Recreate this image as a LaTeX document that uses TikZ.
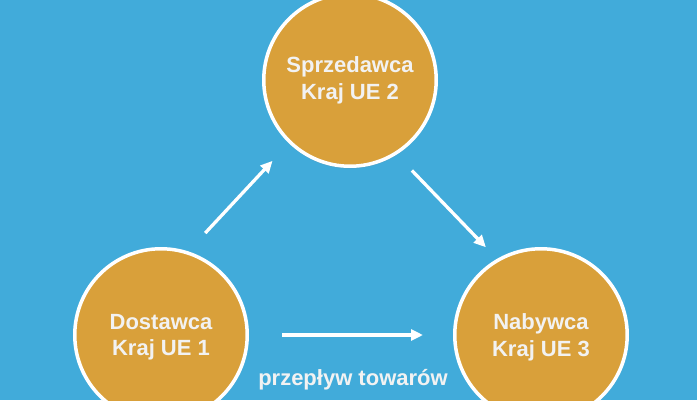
\documentclass[tikz,border=0pt]{standalone}
\usepackage{fontspec}
\setmainfont{Liberation Sans}
\usetikzlibrary{arrows.meta,shadows}
\definecolor{skyblue}{HTML}{41ABDA}
\definecolor{amber}{HTML}{D9A03A}
\definecolor{offwhite}{HTML}{F2F2F2}
\tikzset{
  country/.style={circle, fill=amber, draw=white, line width=3.5pt,
    minimum size=172.5pt, inner sep=0pt, align=center, text=offwhite,
    font=\fontsize{22pt}{26.7pt}\selectfont\bfseries,
    drop shadow={opacity=0.18, shadow xshift=0pt, shadow yshift=-2.5pt}},
  flow/.style={draw=white, line width=3.3pt, -{Triangle[length=12pt,width=11pt]}},
  flowlabel/.style={inner sep=0pt, text=offwhite,
    font=\fontsize{22pt}{26.7pt}\selectfont\bfseries},
}
\begin{document}
\begin{tikzpicture}[x=1pt,y=-1pt]
      \useasboundingbox (0,0) rectangle (697,400);
      \clip (0,0) rectangle (697,400);
      \fill[skyblue] (0,0) rectangle (697,400);
      \draw
        (161,335) node[country, text depth=0pt] (1){Dostawca\\Kraj UE 1}
        (350,80) node[country] (2){Sprzedawca\\Kraj UE 2}
        (541,335) node[country, text depth=0pt] (3){Nabywca\\Kraj UE 3};
      \begin{scope}[flow]
        \draw[shorten <=25pt, shorten >=24pt] (1.72) to (2.-134);
        \draw[shorten <=22pt, shorten >=16pt] (2.-58) to (3.120);
        \draw[shorten <=33pt, shorten >=30pt] (1.0) to
          node[flowlabel, midway, xshift=2pt, yshift=-45pt] {przepływ towarów} (3.180);
      \end{scope}
    \end{tikzpicture}
\end{document}
